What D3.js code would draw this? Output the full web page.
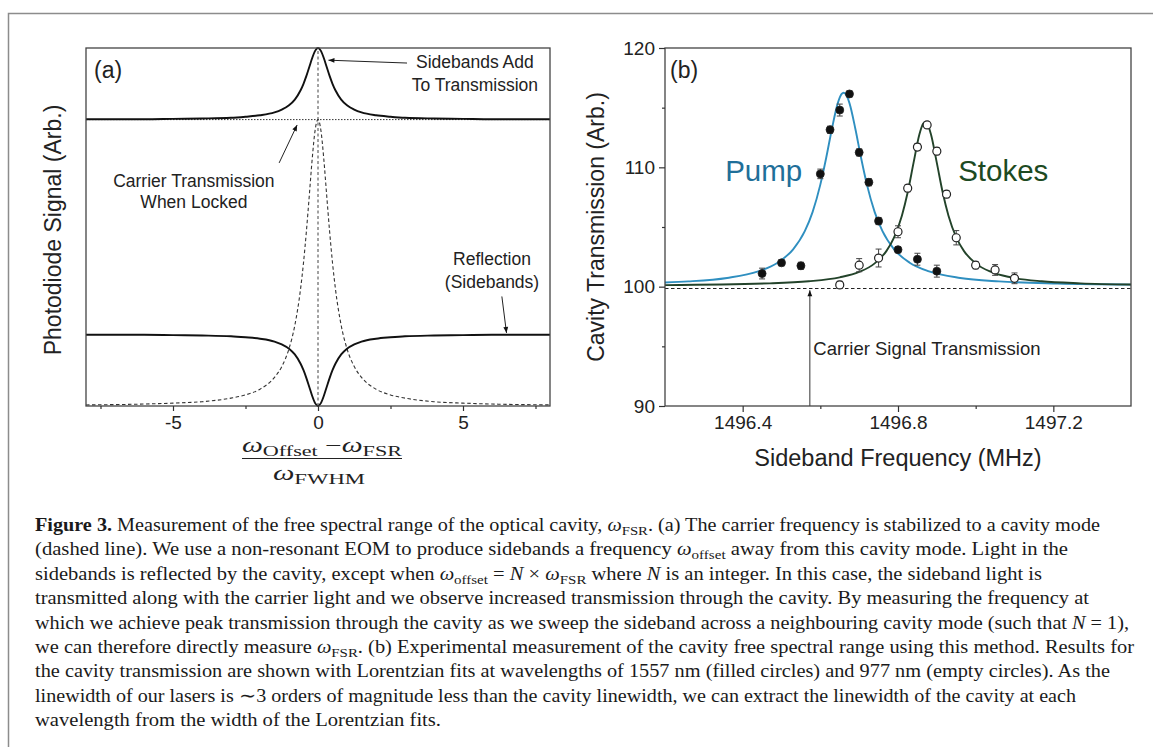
<!DOCTYPE html>
<html>
<head>
<meta charset="utf-8">
<script src="https://cdn.jsdelivr.net/npm/d3@7"></script>
<style>
  body { margin: 0; background: #fff; }
  svg { display: block; }
</style>
</head>
<body>
<div id="chart"></div>
<script>
// ---------- panel (a): normalised detuning and the model signals ----------
const detuning = [-8, -6, -5, -4, -3, -2.5, -2, -1.5, -1.25, -1, -0.8, -0.6, -0.5, -0.4, -0.3, -0.2, -0.1, 0,
  0.1, 0.2, 0.3, 0.4, 0.5, 0.6, 0.8, 1, 1.25, 1.5, 2, 2.5, 3, 4, 5, 6, 8];
const reflectionSignal = [0.199, 0.199, 0.198, 0.197, 0.195, 0.192, 0.188, 0.18, 0.172, 0.16, 0.144, 0.118, 0.1, 0.078, 0.053, 0.028, 0.008, 0,
  0.008, 0.028, 0.053, 0.078, 0.1, 0.118, 0.144, 0.16, 0.172, 0.18, 0.188, 0.192, 0.195, 0.197, 0.198, 0.199, 0.199];
const transmissionSignal = [0.801, 0.801, 0.802, 0.803, 0.805, 0.808, 0.812, 0.82, 0.828, 0.84, 0.856, 0.882, 0.9, 0.922, 0.947, 0.972, 0.992, 1.0,
  0.992, 0.972, 0.947, 0.922, 0.9, 0.882, 0.856, 0.84, 0.828, 0.82, 0.812, 0.808, 0.805, 0.803, 0.802, 0.801, 0.801];
const carrierSignal = [0.003, 0.0055, 0.008, 0.012, 0.022, 0.031, 0.047, 0.08, 0.11, 0.16, 0.225, 0.328, 0.4, 0.488, 0.588, 0.69, 0.77, 0.8,
  0.77, 0.69, 0.588, 0.488, 0.4, 0.328, 0.225, 0.16, 0.11, 0.08, 0.047, 0.031, 0.022, 0.012, 0.008, 0.0055, 0.003];
const lockedLevel = 0.8;
const aTicks = [-5, 0, 5];
const aMinorTicks = [-7.5, -2.5, 2.5, 7.5];

// ---------- panel (b): measured transmission and Lorentzian fits ----------
const pumpFreq = [1496.45, 1496.5, 1496.55, 1496.6, 1496.625, 1496.65, 1496.675, 1496.7, 1496.725, 1496.75, 1496.8, 1496.85, 1496.9];
const pumpValue = [101.1, 102.0, 101.75, 109.45, 113.15, 114.8, 116.15, 111.25, 108.75, 105.5, 103.1, 102.3, 101.3];
const pumpErr = [0.45, 0.25, 0.3, 0.4, 0.3, 0.5, 0.25, 0.3, 0.3, 0.3, 0.25, 0.5, 0.5];
const stokesFreq = [1496.65, 1496.7, 1496.75, 1496.8, 1496.825, 1496.85, 1496.875, 1496.9, 1496.925, 1496.95, 1497.0, 1497.05, 1497.1];
const stokesValue = [100.15, 101.8, 102.4, 104.6, 108.25, 111.7, 113.55, 111.35, 107.75, 104.1, 101.8, 101.4, 100.7];
const stokesErr = [0.3, 0.55, 0.75, 0.5, 0.3, 0.3, 0.25, 0.3, 0.3, 0.6, 0.3, 0.45, 0.45];

const pumpFitFreq = [1496.2, 1496.26, 1496.36, 1496.44, 1496.49, 1496.53, 1496.56, 1496.58, 1496.6, 1496.615, 1496.63, 1496.645,
  1496.655, 1496.66, 1496.665, 1496.675, 1496.69, 1496.705, 1496.72, 1496.74, 1496.76, 1496.79, 1496.83, 1496.88, 1496.96,
  1497.06, 1497.21, 1497.4];
const pumpFitValue = [100.35, 100.44, 100.73, 101.28, 102.01, 103.13, 104.65, 106.25, 108.55, 110.78, 113.26, 115.38,
  116.15, 116.25, 116.15, 115.38, 113.26, 110.78, 108.55, 106.25, 104.65, 103.13, 102.01, 101.28, 100.73,
  100.44, 100.26, 100.17];
const stokesFitFreq = [1496.2, 1496.47, 1496.57, 1496.65, 1496.7, 1496.74, 1496.77, 1496.79, 1496.81, 1496.825, 1496.84, 1496.855,
  1496.865, 1496.87, 1496.875, 1496.885, 1496.9, 1496.915, 1496.93, 1496.95, 1496.97, 1497.0, 1497.04, 1497.09, 1497.17,
  1497.27, 1497.4];
const stokesFitValue = [100.13, 100.28, 100.45, 100.78, 101.23, 101.95, 102.98, 104.13, 105.95, 107.91, 110.37, 112.75,
  113.67, 113.8, 113.67, 112.75, 110.37, 107.91, 105.95, 104.13, 102.98, 101.95, 101.23, 100.78, 100.45,
  100.28, 100.18];
const carrierLevel = 99.85;
const carrierArrowFreq = 1496.573;
const bTicksX = [1496.4, 1496.8, 1497.2];
const bMinorX = [1496.6, 1497.0];
const bTicksY = [90, 100, 110, 120];
const bMinorY = [95, 105, 115];

// ---------- caption ----------
const captionLines = [
  [["b", "Figure 3."], ["", " Measurement of the free spectral range of the optical cavity, "], ["i", "ω"], ["sub", "FSR"], ["", ". (a) The carrier frequency is stabilized to a cavity mode"]],
  [["", "(dashed line). We use a non-resonant EOM to produce sidebands a frequency "], ["i", "ω"], ["sub", "offset"], ["", " away from this cavity mode. Light in the"]],
  [["", "sidebands is reflected by the cavity, except when "], ["i", "ω"], ["sub", "offset"], ["", " = "], ["i", "N"], ["", " × "], ["i", "ω"], ["sub", "FSR"], ["", " where "], ["i", "N"], ["", " is an integer. In this case, the sideband light is"]],
  [["", "transmitted along with the carrier light and we observe increased transmission through the cavity. By measuring the frequency at"]],
  [["", "which we achieve peak transmission through the cavity as we sweep the sideband across a neighbouring cavity mode (such that "], ["i", "N"], ["", " = 1),"]],
  [["", "we can therefore directly measure "], ["i", "ω"], ["sub", "FSR"], ["", ". (b) Experimental measurement of the cavity free spectral range using this method. Results for"]],
  [["", "the cavity transmission are shown with Lorentzian fits at wavelengths of 1557 nm (filled circles) and 977 nm (empty circles). As the"]],
  [["", "linewidth of our lasers is ∼3 orders of magnitude less than the cavity linewidth, we can extract the linewidth of the cavity at each"]],
  [["", "wavelength from the width of the Lorentzian fits."]],
];
const captionRight = [1100, 1068, 1042, 1089, 1129, 1134, 1110, 1076, 441];

const W = 1153, H = 747;
const sans = "'Liberation Sans', Arial, sans-serif";
const serif = "'Liberation Serif', 'Times New Roman', serif";
const boxTop = 48, boxBottom = 406;

const svg = d3.select("#chart").append("svg").attr("width", W).attr("height", H);

// outer figure frame
svg.append("rect")
  .attr("x", 8.5).attr("y", 13.5).attr("width", 1200).attr("height", 800)
  .attr("fill", "none").attr("stroke", "#8c8c8c").attr("stroke-width", 1.5);

const defs = svg.append("defs");
defs.append("marker")
  .attr("id", "arrow")
  .attr("viewBox", "0 0 10 10")
  .attr("refX", 10).attr("refY", 5)
  .attr("markerWidth", 8).attr("markerHeight", 6)
  .attr("markerUnits", "userSpaceOnUse")
  .attr("orient", "auto")
  .append("path").attr("d", "M0,1 L10,5 L0,9 z").attr("fill", "#111");

function styleAxis(g, size) {
  g.select(".domain").remove();
  g.selectAll(".tick line").attr("stroke", "#333").attr("stroke-width", 1.2);
  g.selectAll(".tick text").attr("font-family", sans).attr("font-size", size).attr("fill", "#222");
}

// ================= panel (a) =================
const xA = d3.scaleLinear().domain([-8, 8]).range([86, 550]);
const yA = d3.scaleLinear().domain([0, 1]).range([boxBottom, boxTop]);
const gA = svg.append("g");

const lineA = (vals) => d3.line()
  .x((d, i) => xA(detuning[i]))
  .y((d) => yA(d))
  .curve(d3.curveMonotoneX)(vals);

gA.append("line")
  .attr("x1", xA(-8)).attr("x2", xA(8))
  .attr("y1", yA(lockedLevel)).attr("y2", yA(lockedLevel))
  .attr("stroke", "#333").attr("stroke-width", 1).attr("stroke-dasharray", "1.5,1.5");
gA.append("line")
  .attr("x1", xA(0)).attr("x2", xA(0))
  .attr("y1", yA(0)).attr("y2", yA(1))
  .attr("stroke", "#444").attr("stroke-width", 1).attr("stroke-dasharray", "3,2.5");
gA.append("path").attr("d", lineA(carrierSignal))
  .attr("fill", "none").attr("stroke", "#333").attr("stroke-width", 1.1).attr("stroke-dasharray", "3.5,2.5");
gA.append("path").attr("d", lineA(reflectionSignal))
  .attr("fill", "none").attr("stroke", "#111").attr("stroke-width", 1.9);
gA.append("path").attr("d", lineA(transmissionSignal))
  .attr("fill", "none").attr("stroke", "#111").attr("stroke-width", 1.9);

gA.append("rect")
  .attr("x", xA(-8)).attr("y", yA(1))
  .attr("width", xA(8) - xA(-8)).attr("height", yA(0) - yA(1))
  .attr("fill", "none").attr("stroke", "#444").attr("stroke-width", 1.3);

const axA = gA.append("g").attr("transform", `translate(0,${boxBottom})`)
  .call(d3.axisBottom(xA).tickValues(aTicks).tickSize(5).tickPadding(5).tickFormat((d) => String(d)));
styleAxis(axA, 19);
const axAm = gA.append("g").attr("transform", `translate(0,${boxBottom})`)
  .call(d3.axisBottom(xA).tickValues(aMinorTicks).tickSize(3).tickFormat(""));
styleAxis(axAm, 19);

// annotations (a)
const annA = gA.append("g").attr("font-family", sans).attr("fill", "#222");
annA.append("text").attr("x", xA(-8) + 8).attr("y", boxTop + 30).attr("font-size", 23).text("(a)");
annA.append("text").attr("x", xA(5.41)).attr("y", yA(0.943)).attr("font-size", 17.5).attr("text-anchor", "middle").text("Sidebands Add");
annA.append("text").attr("x", xA(5.41)).attr("y", yA(0.88)).attr("font-size", 17.5).attr("text-anchor", "middle").text("To Transmission");
annA.append("text").attr("x", xA(-4.28)).attr("y", yA(0.612)).attr("font-size", 17.5).attr("text-anchor", "middle").text("Carrier Transmission");
annA.append("text").attr("x", xA(-4.28)).attr("y", yA(0.553)).attr("font-size", 17.5).attr("text-anchor", "middle").text("When Locked");
annA.append("text").attr("x", xA(6.0)).attr("y", yA(0.395)).attr("font-size", 17.5).attr("text-anchor", "middle").text("Reflection");
annA.append("text").attr("x", xA(6.0)).attr("y", yA(0.33)).attr("font-size", 17.5).attr("text-anchor", "middle").text("(Sidebands)");

const arrowsA = [
  [3.07, 0.958, 0.36, 0.966],
  [-1.34, 0.679, -0.72, 0.785],
  [6.34, 0.306, 6.5, 0.204],
];
arrowsA.forEach(([x1, y1, x2, y2]) => {
  gA.append("line")
    .attr("x1", xA(x1)).attr("y1", yA(y1)).attr("x2", xA(x2)).attr("y2", yA(y2))
    .attr("stroke", "#222").attr("stroke-width", 1).attr("marker-end", "url(#arrow)");
});

// y label (a)
gA.append("text")
  .attr("transform", `translate(61,${(boxTop + boxBottom) / 2 + 3}) rotate(-90)`)
  .attr("text-anchor", "middle").attr("font-family", sans).attr("font-size", 23).attr("fill", "#222")
  .text("Photodiode Signal (Arb.)");

// x label (a): fraction
const fracX = (xA(-8) + xA(8)) / 2 + 4;
const num = gA.append("text").attr("x", fracX).attr("y", 452).attr("text-anchor", "middle")
  .attr("font-family", serif).attr("font-size", 20).attr("fill", "#222")
  .attr("textLength", 160).attr("lengthAdjust", "spacingAndGlyphs");
num.append("tspan").attr("font-style", "italic").text("ω");
num.append("tspan").attr("font-size", 15).attr("dy", 4).text("Offset");
num.append("tspan").attr("dy", -4).text(" −");
num.append("tspan").attr("font-style", "italic").text("ω");
num.append("tspan").attr("font-size", 15).attr("dy", 4).text("FSR");
gA.append("line").attr("x1", fracX - 80).attr("x2", fracX + 80).attr("y1", 458.5).attr("y2", 458.5)
  .attr("stroke", "#222").attr("stroke-width", 1.2);
const den = gA.append("text").attr("x", fracX - 3).attr("y", 480).attr("text-anchor", "middle")
  .attr("font-family", serif).attr("font-size", 20).attr("fill", "#222")
  .attr("textLength", 92).attr("lengthAdjust", "spacingAndGlyphs");
den.append("tspan").attr("font-style", "italic").text("ω");
den.append("tspan").attr("font-size", 15).attr("dy", 4).text("FWHM");

// ================= panel (b) =================
const xB = d3.scaleLinear().domain([1496.2, 1497.4]).range([665, 1131]);
const yB = d3.scaleLinear().domain([90, 120]).range([boxBottom, boxTop]);
const gB = svg.append("g");

gB.append("line")
  .attr("x1", xB(1496.2)).attr("x2", xB(1497.4))
  .attr("y1", yB(carrierLevel)).attr("y2", yB(carrierLevel))
  .attr("stroke", "#222").attr("stroke-width", 1.1).attr("stroke-dasharray", "3.5,2.5");
gB.append("line")
  .attr("x1", xB(carrierArrowFreq)).attr("x2", xB(carrierArrowFreq))
  .attr("y1", yB(90)).attr("y2", yB(99.7))
  .attr("stroke", "#333").attr("stroke-width", 1).attr("marker-end", "url(#arrow)");

const fitLine = (fs, vs) => d3.line()
  .x((d, i) => xB(fs[i]))
  .y((d) => yB(d))
  .curve(d3.curveMonotoneX)(vs);

gB.append("path").attr("d", fitLine(pumpFitFreq, pumpFitValue))
  .attr("fill", "none").attr("stroke", "#2f8fc0").attr("stroke-width", 1.9);
gB.append("path").attr("d", fitLine(stokesFitFreq, stokesFitValue))
  .attr("fill", "none").attr("stroke", "#23432a").attr("stroke-width", 1.9);

function drawPoints(fs, vs, es, filled) {
  const pts = fs.map((f, i) => ({ f, v: vs[i], e: es[i] }));
  const g = gB.append("g");
  const eb = g.selectAll("g.err").data(pts).join("g").attr("class", "err")
    .attr("stroke", "#444").attr("stroke-width", 1);
  eb.append("line")
    .attr("x1", (d) => xB(d.f)).attr("x2", (d) => xB(d.f))
    .attr("y1", (d) => yB(d.v - d.e)).attr("y2", (d) => yB(d.v + d.e));
  [-1, 1].forEach((s) => {
    eb.append("line")
      .attr("x1", (d) => xB(d.f) - 3).attr("x2", (d) => xB(d.f) + 3)
      .attr("y1", (d) => yB(d.v + s * d.e)).attr("y2", (d) => yB(d.v + s * d.e));
  });
  g.selectAll("circle").data(pts).join("circle")
    .attr("cx", (d) => xB(d.f)).attr("cy", (d) => yB(d.v)).attr("r", 4)
    .attr("fill", filled ? "#111" : "#fff")
    .attr("stroke", "#222").attr("stroke-width", filled ? 0.8 : 1.2);
}
drawPoints(pumpFreq, pumpValue, pumpErr, true);
drawPoints(stokesFreq, stokesValue, stokesErr, false);

gB.append("rect")
  .attr("x", xB(1496.2)).attr("y", yB(120))
  .attr("width", xB(1497.4) - xB(1496.2)).attr("height", yB(90) - yB(120))
  .attr("fill", "none").attr("stroke", "#444").attr("stroke-width", 1.3);

const axBx = gB.append("g").attr("transform", `translate(0,${boxBottom})`)
  .call(d3.axisBottom(xB).tickValues(bTicksX).tickSize(6).tickPadding(4).tickFormat(d3.format(".1f")));
styleAxis(axBx, 19);
const axBxm = gB.append("g").attr("transform", `translate(0,${boxBottom})`)
  .call(d3.axisBottom(xB).tickValues(bMinorX).tickSize(3).tickFormat(""));
styleAxis(axBxm, 19);
const axBy = gB.append("g").attr("transform", `translate(${xB(1496.2)},0)`)
  .call(d3.axisLeft(yB).tickValues(bTicksY).tickSize(6).tickPadding(4).tickFormat(d3.format("d")));
styleAxis(axBy, 19);
const axBym = gB.append("g").attr("transform", `translate(${xB(1496.2)},0)`)
  .call(d3.axisLeft(yB).tickValues(bMinorY).tickSize(3).tickFormat(""));
styleAxis(axBym, 19);

const annB = gB.append("g").attr("font-family", sans);
annB.append("text").attr("x", xB(1496.2) + 5).attr("y", boxTop + 30).attr("font-size", 23).attr("fill", "#222").text("(b)");
annB.append("text").attr("x", xB(1496.355)).attr("y", yB(108.86)).attr("font-size", 29.5).attr("fill", "#1f6f99").text("Pump");
annB.append("text").attr("x", xB(1496.955)).attr("y", yB(108.86)).attr("font-size", 29.5).attr("fill", "#1d4a22").text("Stokes");
annB.append("text").attr("x", xB(1496.582)).attr("y", yB(94.27)).attr("font-size", 18.5).attr("fill", "#222").text("Carrier Signal Transmission");

gB.append("text")
  .attr("transform", `translate(604,${(boxTop + boxBottom) / 2}) rotate(-90)`)
  .attr("text-anchor", "middle").attr("font-family", sans).attr("font-size", 23).attr("fill", "#222")
  .text("Cavity Transmission (Arb.)");
gB.append("text")
  .attr("x", (xB(1496.2) + xB(1497.4)) / 2).attr("y", 466)
  .attr("text-anchor", "middle").attr("font-family", sans).attr("font-size", 23.5).attr("fill", "#222")
  .text("Sideband Frequency (MHz)");

// ================= caption =================
const gC = svg.append("g").attr("font-family", serif).attr("font-size", 18.5).attr("fill", "#1a1a1a");
captionLines.forEach((segs, li) => {
  const t = gC.append("text").attr("x", 35).attr("y", 531 + li * 24.4);
  let shifted = false;
  segs.forEach(([kind, str]) => {
    const sp = t.append("tspan").text(str);
    if (kind === "sub") {
      sp.attr("dy", 4).attr("font-size", 13.5);
      shifted = true;
    } else if (shifted) {
      sp.attr("dy", -4);
      shifted = false;
    }
    if (kind === "b") sp.attr("font-weight", "bold");
    if (kind === "i") sp.attr("font-style", "italic");
  });
  t.attr("textLength", captionRight[li] - 35).attr("lengthAdjust", "spacingAndGlyphs");
});
</script>
</body>
</html>
